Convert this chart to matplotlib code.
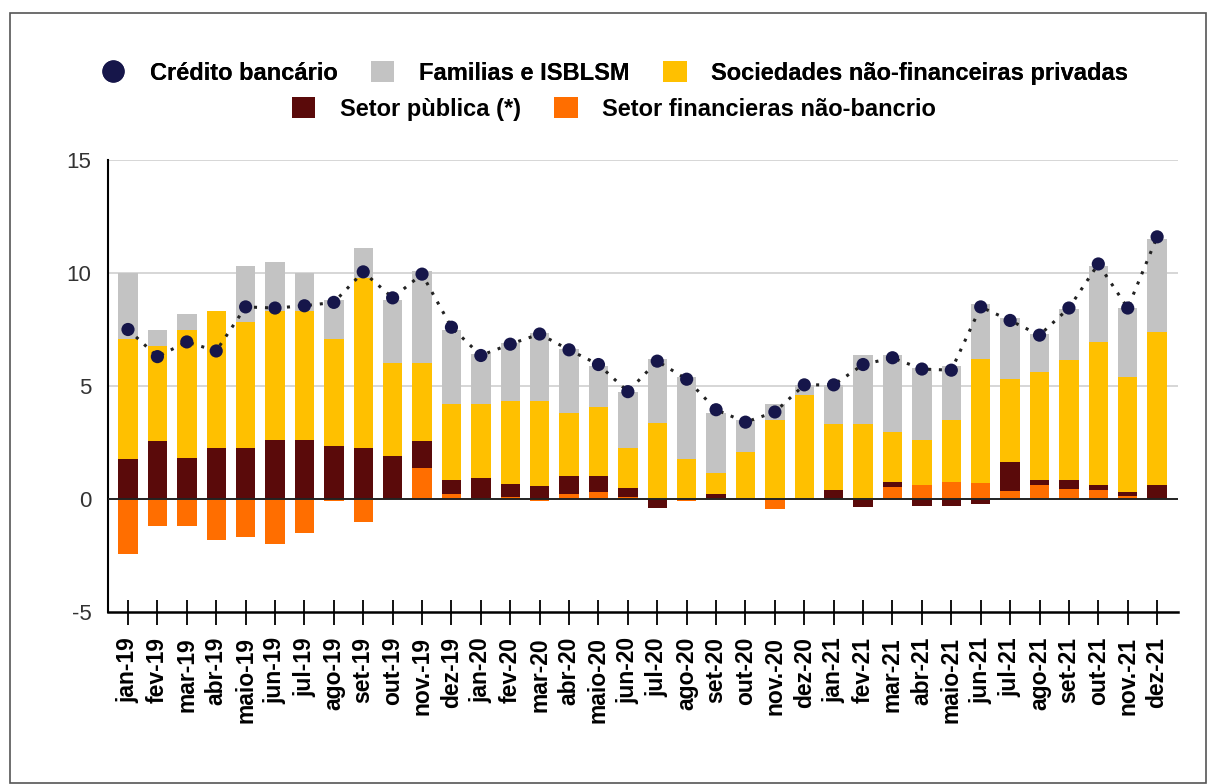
import matplotlib
matplotlib.use("Agg")
import matplotlib.pyplot as plt
import numpy as np
from matplotlib.patches import Rectangle
from matplotlib.lines import Line2D

plt.rcParams['font.family'] = ['Liberation Sans', 'DejaVu Sans']

months = ["jan-19", "fev-19", "mar-19", "abr-19", "maio-19", "jun-19", "jul-19", "ago-19",
          "set-19", "out-19", "nov.-19", "dez-19", "jan-20", "fev-20", "mar-20", "abr-20",
          "maio-20", "jun-20", "jul-20", "ago-20", "set-20", "out-20", "nov.-20", "dez-20",
          "jan-21", "fev-21", "mar-21", "abr-21", "maio-21", "jun-21", "jul-21", "ago-21",
          "set-21", "out-21", "nov.-21", "dez-21"]

# Setor financieras não-bancrio
nbfi = [-2.45, -1.2, -1.2, -1.8, -1.7, -2.0, -1.5, -0.1, -1.0, 0.0, 1.35, 0.22,
        0.05, 0.07, -0.1, 0.22, 0.3, 0.07, 0.05, -0.07, 0.03, 0.05, -0.45, 0.0,
        0.0, -0.05, 0.52, 0.6, 0.75, 0.7, 0.37, 0.6, 0.45, 0.4, 0.15, 0.0]
# Setor pùblica (*)
public = [1.75, 2.55, 1.8, 2.25, 2.25, 2.6, 2.6, 2.35, 2.25, 1.9, 1.2, 0.64,
          0.88, 0.6, 0.56, 0.78, 0.7, 0.43, -0.4, 0.0, 0.19, 0.0, 0.0, 0.0,
          0.4, -0.3, 0.25, -0.3, -0.3, -0.22, 1.28, 0.26, 0.41, 0.2, 0.18, 0.6]
# Sociedades não-financeiras privadas
nfc = [5.35, 4.2, 5.7, 6.05, 5.6, 5.7, 5.7, 4.75, 7.55, 4.1, 3.45, 3.34,
       3.27, 3.68, 3.79, 2.8, 3.05, 1.75, 3.3, 1.75, 0.93, 2.05, 3.5, 4.6,
       2.9, 3.3, 2.18, 2.0, 2.75, 5.5, 3.65, 4.74, 5.29, 6.35, 5.07, 6.8]
# Familias e ISBLSM
households = [2.9, 0.75, 0.7, 0.0, 2.45, 2.2, 1.7, 1.7, 1.3, 2.8, 4.1, 3.3,
              2.2, 2.55, 3.0, 2.85, 1.85, 2.5, 2.85, 3.65, 2.65, 1.4, 0.7, 0.45,
              1.75, 3.05, 3.4, 3.2, 2.4, 2.45, 2.7, 1.7, 2.25, 3.35, 3.05, 4.1]
# Crédito bancário
credit = [7.5, 6.3, 6.95, 6.55, 8.5, 8.45, 8.55, 8.7, 10.05, 8.9, 9.95, 7.6,
          6.35, 6.85, 7.3, 6.6, 5.95, 4.75, 6.1, 5.3, 3.95, 3.4, 3.85, 5.05,
          5.05, 5.95, 6.25, 5.75, 5.7, 8.5, 7.9, 7.25, 8.45, 10.4, 8.45, 11.6]

series = [
    ("Setor financieras não-bancrio", nbfi, "#FF6E00"),
    ("Setor pùblica (*)", public, "#5A0A0A"),
    ("Sociedades não-financeiras privadas", nfc, "#FFC000"),
    ("Familias e ISBLSM", households, "#C3C3C3"),
]

fig = plt.figure(figsize=(12.08, 7.84), dpi=100)
ax = fig.add_axes([108/1208, 1-612/784, (1178-108)/1208, (612-160)/784])

x = np.arange(len(months))
pos_bottom = np.zeros(len(months))
neg_bottom = np.zeros(len(months))
handles = {}
for name, vals, col in series:
    v = np.array(vals, dtype=float)
    bottom = np.where(v >= 0, pos_bottom, neg_bottom)
    b = ax.bar(x, v, width=0.66, bottom=bottom, color=col, edgecolor='none', zorder=3, label=name)
    handles[name] = b
    pos_bottom = pos_bottom + np.where(v > 0, v, 0)
    neg_bottom = neg_bottom + np.where(v < 0, v, 0)

ax.plot(x, credit, color='#222222', lw=2.2, linestyle=(0, (1, 2.6)), zorder=4)
ax.scatter(x, credit, s=90, color='#16164A', zorder=5, edgecolors='none')

ax.set_xlim(-0.68, 35.71)
ax.set_ylim(-5, 15)
ax.set_yticks([-5, 0, 5, 10, 15])
ax.set_yticklabels(["-5", "0", "5", "10", "15"])
for yv in [5, 10, 15]:
    ax.axhline(yv, color='#CFCFCF', lw=1.2, zorder=1)
ax.axhline(0, color='#222222', lw=1.4, zorder=4)

ax.set_xticks(x)
ax.set_xticklabels(months, rotation=90, fontweight='bold', fontsize=16.5)
ax.tick_params(axis='x', direction='inout', length=18, width=1.3, color='black', pad=9)
ax.tick_params(axis='y', length=0, pad=12, labelsize=16, labelcolor='#333333')

for s in ['top', 'right']:
    ax.spines[s].set_visible(False)
ax.spines['left'].set_color('black')
ax.spines['left'].set_linewidth(1.5)
ax.spines['bottom'].set_color('black')
ax.spines['bottom'].set_linewidth(1.8)

# legend
dot_handle = Line2D([], [], marker='o', linestyle='none', markersize=15,
                    markerfacecolor='#16164A', markeredgecolor='#16164A')
leg_kw = dict(loc='center', frameon=False, prop={'weight': 'bold', 'size': 17},
              handlelength=1.0, handleheight=1.0, handletextpad=1.05, columnspacing=1.4,
              borderpad=0, borderaxespad=0)
leg1 = fig.legend([dot_handle, handles["Familias e ISBLSM"], handles["Sociedades não-financeiras privadas"]],
                  ["Crédito bancário", "Familias e ISBLSM", "Sociedades não-financeiras privadas"],
                  bbox_to_anchor=(615/1208, 1-73/784), ncol=3, **leg_kw)
leg2 = fig.legend([handles["Setor pùblica (*)"], handles["Setor financieras não-bancrio"]],
                  ["Setor pùblica (*)", "Setor financieras não-bancrio"],
                  bbox_to_anchor=(614/1208, 1-109/784), ncol=2, **leg_kw)
fig.add_artist(leg1)

# outer frame
fig.add_artist(Rectangle((10/1208, 1-783/784), 1196/1208, 770/784, transform=fig.transFigure,
                         fill=False, edgecolor='#555555', lw=1.2))

fig.savefig("out.png", dpi=100)
